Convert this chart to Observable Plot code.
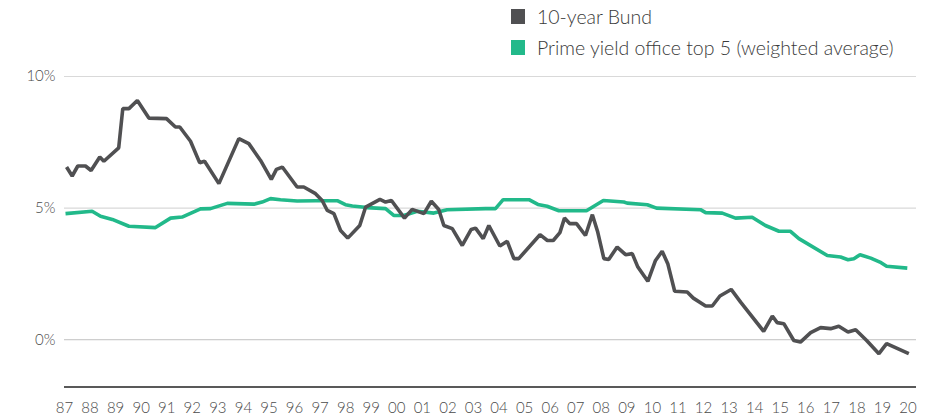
<!DOCTYPE html>
<html><head><meta charset="utf-8">
<script src="https://cdn.jsdelivr.net/npm/d3@7"></script>
<script src="https://cdn.jsdelivr.net/npm/@observablehq/plot@0.6"></script>
<style>
body{margin:0;background:#fff;font-family:Lato,"Open Sans",sans-serif;}
#wrap{position:relative;width:931px;height:418px;overflow:hidden;}
#legend{position:absolute;left:511px;top:0.5px;font-size:19.5px;color:#3a3a3a;font-weight:300;}
.row{display:flex;align-items:center;height:31px;white-space:nowrap;}
.sw{width:14px;height:15px;margin-right:12px;flex:none;}
#chart{position:absolute;left:0;top:60px;}
</style></head>
<body><div id="wrap"><div id="legend"></div><div id="chart"></div></div>
<script>
const seriesNames = ["10-year Bund", "Prime yield office top 5 (weighted average)"];
const seriesColors = ["#505052", "#22b98a"];

const bundYears = [1987.08,1987.30,1987.52,1987.82,1988.04,1988.38,1988.54,1989.12,1989.28,1989.52,1989.85,1990.30,1990.99,1991.34,1991.51,1991.93,1992.29,1992.48,1993.04,1993.82,1994.21,1994.67,1995.09,1995.29,1995.52,1996.10,1996.36,1996.82,1997.08,1997.28,1997.54,1997.80,1998.08,1998.55,1998.78,1999.34,1999.56,1999.79,2000.30,2000.60,2001.06,2001.35,2001.64,2001.84,2002.17,2002.56,2002.91,2003.08,2003.38,2003.60,2004.03,2004.32,2004.58,2004.77,2005.60,2005.89,2006.12,2006.38,2006.56,2006.77,2007.03,2007.38,2007.65,2007.86,2008.10,2008.29,2008.62,2008.95,2009.21,2009.43,2009.82,2010.12,2010.38,2010.60,2010.87,2011.36,2011.60,2012.08,2012.34,2012.64,2013.08,2013.45,2014.35,2014.69,2014.88,2015.14,2015.53,2015.79,2016.19,2016.58,2016.97,2017.29,2017.65,2017.95,2018.38,2018.86,2019.16,2020.03];
const bundValues = [6.56,6.22,6.60,6.60,6.43,6.94,6.78,7.29,8.78,8.78,9.09,8.42,8.40,8.08,8.08,7.54,6.72,6.78,5.93,7.64,7.45,6.81,6.09,6.47,6.56,5.80,5.80,5.55,5.29,4.91,4.79,4.15,3.86,4.34,5.04,5.33,5.23,5.29,4.62,4.95,4.79,5.26,4.95,4.34,4.22,3.58,4.19,4.24,3.84,4.34,3.56,3.74,3.08,3.08,3.99,3.77,3.77,4.07,4.62,4.41,4.41,3.96,4.75,4.09,3.08,3.05,3.52,3.23,3.27,2.76,2.22,3.01,3.36,2.89,1.84,1.81,1.58,1.28,1.28,1.66,1.91,1.43,0.32,0.90,0.65,0.61,-0.03,-0.09,0.27,0.46,0.42,0.51,0.29,0.38,-0.03,-0.53,-0.15,-0.53];

const primeYears = [1987.04,1988.08,1988.41,1988.87,1989.52,1990.56,1991.15,1991.60,1992.32,1992.71,1993.37,1994.41,1994.73,1995.06,1995.45,1996.10,1996.82,1997.67,1997.99,1998.26,1998.84,1999.56,1999.88,2000.27,2000.80,2001.45,2001.97,2003.47,2003.86,2004.16,2005.17,2005.52,2005.88,2006.34,2007.42,2008.08,2008.88,2009.01,2009.80,2010.16,2011.88,2012.08,2012.73,2013.25,2013.90,2014.42,2014.95,2015.40,2015.73,2016.84,2017.36,2017.65,2017.88,2018.12,2018.54,2018.90,2019.16,2019.97];
const primeValues = [4.79,4.88,4.69,4.57,4.31,4.26,4.62,4.66,4.97,4.98,5.18,5.15,5.23,5.36,5.32,5.27,5.28,5.28,5.13,5.08,5.02,4.98,4.72,4.72,4.88,4.81,4.94,4.98,4.98,5.32,5.32,5.14,5.07,4.90,4.90,5.29,5.23,5.19,5.13,5.00,4.94,4.83,4.81,4.62,4.65,4.34,4.12,4.12,3.84,3.20,3.14,3.04,3.08,3.23,3.10,2.95,2.79,2.72];

const xTickYears = d3.range(1987, 2021);
const xTickLabels = ["87","88","89","90","91","92","93","94","95","96","97","98","99","00","01","02","03","04","05","06","07","08","09","10","11","12","13","14","15","16","17","18","19","20"];
const yTicks = [0, 5, 10];
const yTickLabels = ["0%", "5%", "10%"];

const bund = bundYears.map((y, i) => ({year: y, value: bundValues[i]}));
const prime = primeYears.map((y, i) => ({year: y, value: primeValues[i]}));

const legend = document.getElementById("legend");
seriesNames.forEach((n, i) => {
  const r = document.createElement("div"); r.className = "row";
  const s = document.createElement("div"); s.className = "sw"; s.style.background = seriesColors[i];
  const t = document.createElement("span"); t.textContent = n;
  r.appendChild(s); r.appendChild(t); legend.appendChild(r);
});

const yMin = -1.8;
const chart = Plot.plot({
  width: 931, height: 358,
  marginLeft: 64, marginRight: 15, marginTop: 16, marginBottom: 31.4,
  x: {domain: [1987, 2020.33]},
  y: {domain: [yMin, 10]},
  style: {fontFamily: "Lato, sans-serif", fontSize: "15px", color: "#4a4a4a", background: "white", fontWeight: 300},
  marks: [
    Plot.gridY([5, 10], {stroke: "#d9d9d9", strokeOpacity: 1, strokeWidth: 1.2}),
    Plot.gridY([0], {stroke: "#c0c0c0", strokeOpacity: 1, strokeWidth: 1}),
    Plot.ruleY([yMin], {stroke: "#222", strokeWidth: 1.5}),
    Plot.axisY({ticks: yTicks, tickFormat: d => yTickLabels[yTicks.indexOf(d)], tickSize: 0, tickPadding: 9, label: null}),
    Plot.axisX({ticks: xTickYears, tickFormat: d => xTickLabels[xTickYears.indexOf(d)], tickSize: 0, tickPadding: 15, label: null}),
    Plot.line(prime, {x: "year", y: "value", stroke: seriesColors[1], strokeWidth: 3.6, strokeLinejoin: "miter", strokeLinecap: "butt"}),
    Plot.line(bund, {x: "year", y: "value", stroke: seriesColors[0], strokeWidth: 3.6, strokeLinejoin: "miter", strokeLinecap: "butt"})
  ]
});
document.getElementById("chart").appendChild(chart);
</script>
</body></html>
